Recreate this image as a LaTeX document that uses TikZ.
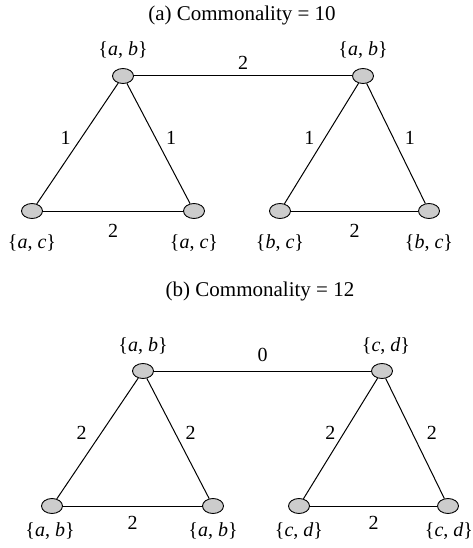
\documentclass[tikz,border=0pt]{standalone}
\usepackage{fontspec}
\setmainfont{Liberation Serif}
\usetikzlibrary{shapes.geometric,positioning}
\tikzset{
  vertex/.style={
    ellipse,
    draw=black,
    fill=gray!40,
    line width=0.9pt,
    minimum width=21pt,
    minimum height=15pt,
    inner sep=0pt
  },
  setlabel/.style={inner sep=2pt, font=\fontsize{20}{24}\selectfont},
  title/.style={inner sep=2pt, font=\fontsize{21}{25}\selectfont},
  edge/.style={line width=1pt},
  weight/.style={inner sep=3.33pt, font=\fontsize{20}{24}\selectfont}
}
\newcommand{\pset}[2]{\{\textit{#1}, \textit{#2}\}}

\begin{document}
\begin{tikzpicture}[x=1pt, y=-1pt]
  \useasboundingbox (0,0) rectangle (473,548);
  % (a)
  \node[title] (ta) at (242,15) {(a) Commonality = 10};
  \node[vertex] (a0) at (123,76) {};
  \node[vertex] (a1) at (32,211) {};
  \node[vertex] (a2) at (194,211) {};
  \node[vertex] (a3) at (363,76) {};
  \node[vertex] (a4) at (280,211) {};
  \node[vertex] (a5) at (429,211) {};
  \node[setlabel] (la0) at (123,50) {\pset{a}{b}};
  \node[setlabel] (la1) at (32,243) {\pset{a}{c}};
  \node[setlabel] (la2) at (194,243) {\pset{a}{c}};
  \node[setlabel] (la3) at (363,50) {\pset{a}{b}};
  \node[setlabel] (la4) at (280,243) {\pset{b}{c}};
  \node[setlabel] (la5) at (429,243) {\pset{b}{c}};
  \draw[edge] (a0) to node[weight, above=3pt] {2} (a3);
  \draw[edge] (a0) to node[weight, pos=0.45, left=7pt] {1} (a1);
  \draw[edge] (a0) to node[weight, pos=0.45, right=7pt] {1} (a2);
  \draw[edge] (a1) to node[weight, below=9pt] {2} (a2);
  \draw[edge] (a3) to node[weight, pos=0.45, left=7pt] {1} (a4);
  \draw[edge] (a3) to node[weight, pos=0.45, right=8pt] {1} (a5);
  \draw[edge] (a4) to node[weight, below=9pt] {2} (a5);
  % (b)
  \node[title] (tb) at (260,291) {(b) Commonality = 12};
  \node[vertex] (b0) at (143,371) {};
  \node[vertex] (b1) at (52,506) {};
  \node[vertex] (b2) at (213,506) {};
  \node[vertex] (b3) at (382,371) {};
  \node[vertex] (b4) at (299,506) {};
  \node[vertex] (b5) at (448,506) {};
  \node[setlabel] (lb0) at (143,346) {\pset{a}{b}};
  \node[setlabel] (lb1) at (50,531) {\pset{a}{b}};
  \node[setlabel] (lb2) at (213,531) {\pset{a}{b}};
  \node[setlabel] (lb3) at (386,346) {\pset{c}{d}};
  \node[setlabel] (lb4) at (299,531) {\pset{c}{d}};
  \node[setlabel] (lb5) at (449,531) {\pset{c}{d}};
  \draw[edge] (b0) to node[weight, above=5pt] {0} (b3);
  \draw[edge] (b0) to node[weight, pos=0.45, left=11pt] {2} (b1);
  \draw[edge] (b0) to node[weight, pos=0.45, right=7pt] {2} (b2);
  \draw[edge] (b1) to node[weight, below=6pt] {2} (b2);
  \draw[edge] (b3) to node[weight, pos=0.45, left=5pt] {2} (b4);
  \draw[edge] (b3) to node[weight, pos=0.45, right=11pt] {2} (b5);
  \draw[edge] (b4) to node[weight, below=6pt] {2} (b5);
\end{tikzpicture}
\end{document}
